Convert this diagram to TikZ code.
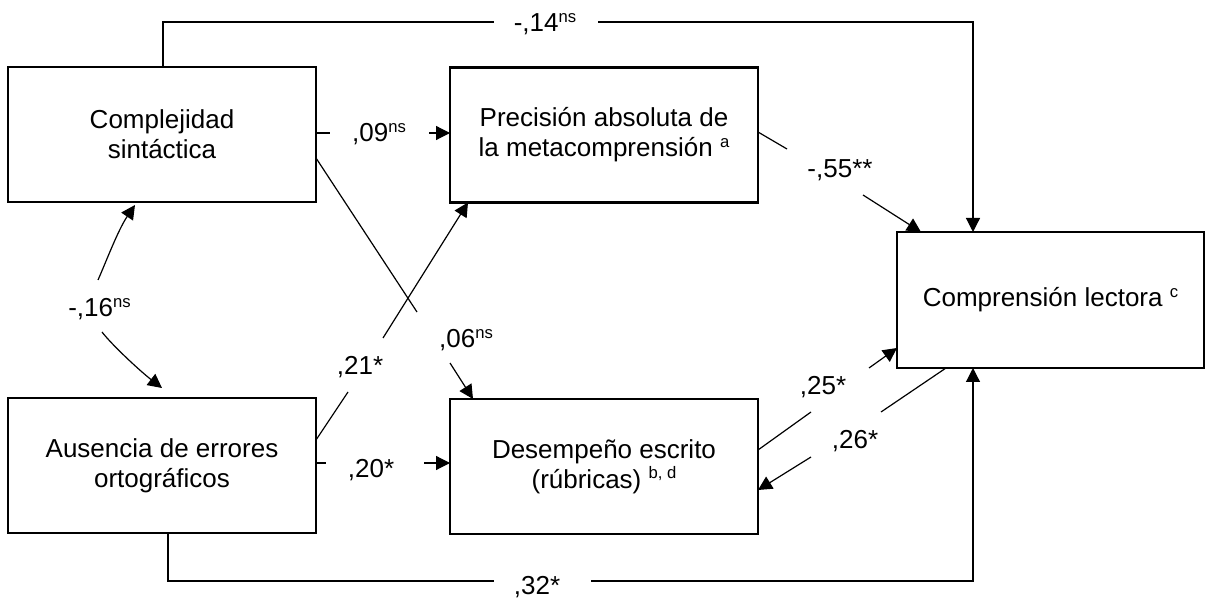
\documentclass[tikz,border=0pt]{standalone}
\usepackage{fontspec}
\setmainfont{Liberation Sans}
\usetikzlibrary{arrows.meta}
\newcommand{\mysup}[1]{\raisebox{7pt}{\fontsize{12.5pt}{12.5pt}\selectfont #1}}
\begin{document}
\begin{tikzpicture}[x=0.75pt,y=-0.75pt,
  box/.style={draw,line width=1.7pt,minimum width=231pt,minimum height=101.25pt,
    align=center,inner sep=0pt,outer sep=0pt,font=\fontsize{19.5pt}{22.5pt}\selectfont},
  lbl/.style={inner sep=0pt,anchor=base,font=\fontsize{19.5pt}{22.5pt}\selectfont},
  ln/.style={line width=0.9pt},
  arr/.style={line width=0.9pt,-{Triangle[length=10.5pt,width=10.5pt]}}]
\useasboundingbox (0,0) rectangle (1207,598);

% boxes
\node[box] (cs) at (162,134.5) {Complejidad\\sintáctica};
\node[box] (pa) at (604,135) {Precisión absoluta de\\la metacomprensión \mysup{a}};
\node[box,minimum width=230.25pt,minimum height=102pt] (cl) at (1050.5,300) {Comprensión lectora \mysup{c}};
\node[box] (ae) at (162,465.5) {Ausencia de errores\\ortográficos};
\node[box] (de) at (604,466.5) {Desempeño escrito\\(rúbricas) \mysup{b, d}};

% labels
\node[lbl] (l14) at (545,32) {-,14\mysup{ns}};
\node[lbl] (l09) at (379,142) {,09\mysup{ns}};
\node[lbl] (l55) at (840,178) {-,55**};
\node[lbl] (l16) at (99.5,317) {-,16\mysup{ns}};
\node[lbl] (l21) at (360,375) {,21*};
\node[lbl] (l06) at (466,348) {,06\mysup{ns}};
\node[lbl] (l20) at (371,478) {,20*};
\node[lbl] (l25) at (823,395) {,25*};
\node[lbl] (l26) at (855,449) {,26*};
\node[lbl] (l32) at (537,594) {,32*};

% gap coordinates
\coordinate (t1) at (494,22);
\coordinate (t2) at (598,22);
\coordinate (g09a) at (330,133);
\coordinate (g09b) at (429,133);
\coordinate (g06a) at (417,312);
\coordinate (g06b) at (450,363);
\coordinate (g21a) at (348,392);
\coordinate (g21b) at (383,338);
\coordinate (g55a) at (787,149);
\coordinate (g55b) at (863,195);
\coordinate (g25a) at (811,412);
\coordinate (g25b) at (869,368);
\coordinate (g26a) at (881,412);
\coordinate (g26b) at (811,457);
\coordinate (g20a) at (326,463);
\coordinate (g20b) at (424,463);
\coordinate (g32a) at (494,581);
\coordinate (g32b) at (591,581);
\coordinate (c16a) at (98,280);
\coordinate (c16at) at (135,205);
\coordinate (c16b) at (102,332);
\coordinate (c16bt) at (162,388);

% connectors
\draw[ln] (cs.north -| 163,0) |- (t1);
\draw[arr] (t2) -| (cl.north -| 973,0);

\draw[ln] (cs.east |- g09a) -- (g09a);
\draw[arr] (g09b) -- (pa.west |- g09b);

\draw[ln] (cs.east |- 0,158) -- (g06a);
\draw[arr] (g06b) -- (de.north -| 473,0);

\draw[ln] (ae.east |- 0,440) -- (g21a);
\draw[arr] (g21b) -- (pa.south -| 468,0);

\draw[ln] (pa.east |- 0,132) -- (g55a);
\draw[arr] (g55b) -- (cl.north -| 921,0);

\draw[ln] (de.east |- 0,450) -- (g25a);
\draw[arr] (g25b) -- (cl.west |- 0,348);

\draw[ln] (cl.south -| 946,0) -- (g26a);
\draw[arr] (g26b) -- (de.east |- 0,490);

\draw[ln] (ae.east |- g20a) -- (g20a);
\draw[arr] (g20b) -- (de.west |- g20b);

\draw[ln] (ae.south -| 168,0) |- (g32a);
\draw[arr] (g32b) -| (cl.south -| 973,0);

\draw[arr] (c16a) .. controls (106,262) and (118,230) .. (c16at);
\draw[arr] (c16b) .. controls (112,345) and (140,371) .. (c16bt);
\end{tikzpicture}
\end{document}
